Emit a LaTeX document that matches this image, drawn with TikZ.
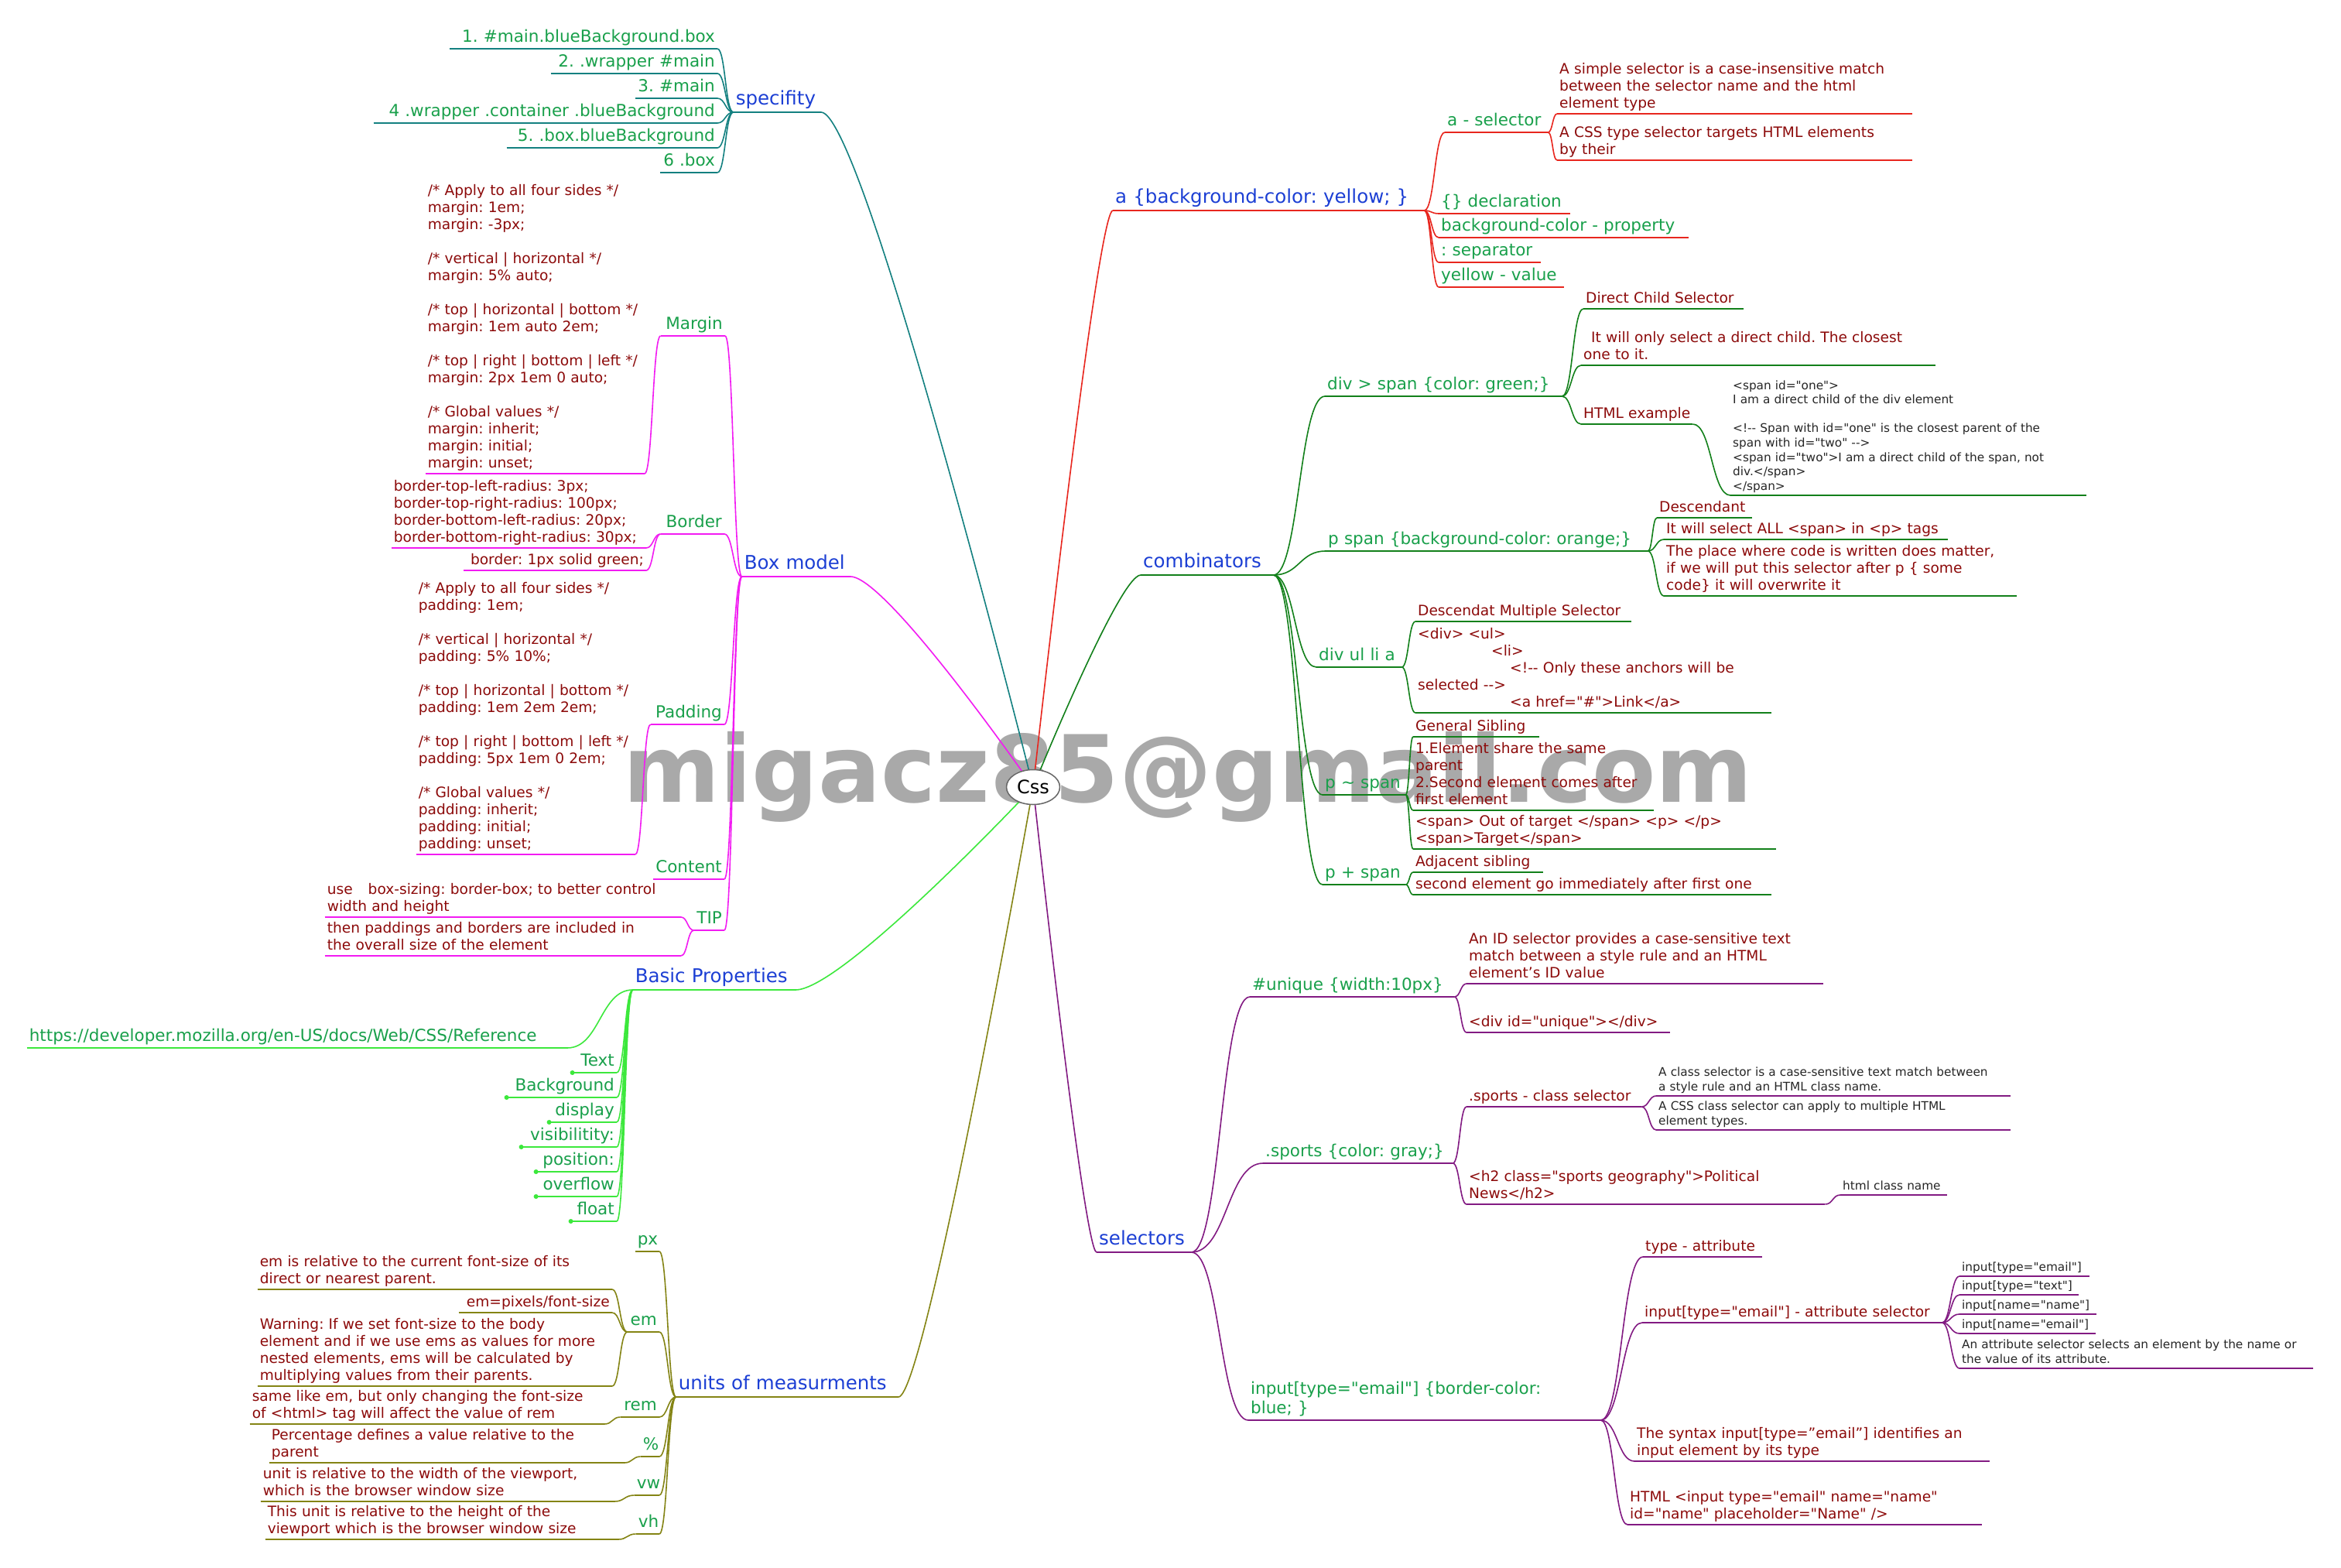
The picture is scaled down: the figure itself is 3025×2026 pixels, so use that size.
\documentclass[tikz,border=0pt]{standalone}
\usepackage{fontspec}
\newfontfamily\dv{DejaVu Sans}
\usetikzlibrary{calc,shapes.geometric}
\pgfdeclarelayer{wm}\pgfdeclarelayer{edges}
\pgfsetlayers{wm,edges,main}
\definecolor{cblue}{HTML}{1C3FD4}
\definecolor{cgreen}{HTML}{19A04B}
\definecolor{cdred}{HTML}{8C0A0A}
\definecolor{csmall}{HTML}{262626}
\definecolor{lteal}{HTML}{138080}
\definecolor{lred}{HTML}{E8261E}
\definecolor{ldgreen}{HTML}{12801A}
\definecolor{lmag}{HTML}{F21BF2}
\definecolor{lbgreen}{HTML}{3CE83C}
\definecolor{lolive}{HTML}{848414}
\definecolor{lpurple}{HTML}{821A82}
\definecolor{wmgray}{HTML}{A9A9A9}
\newcommand\fB{\dv\fontsize{24.5}{28.5}\selectfont}
\newcommand\fG{\dv\fontsize{21.5}{25}\selectfont}
\newcommand\fR{\dv\fontsize{18.6}{22}\selectfont}
\newcommand\fS{\dv\fontsize{15.3}{18.6}\selectfont}
\tikzset{
  nd/.style={inner xsep=3pt, inner ysep=1pt, align=left},
  ra/.style={align=right},
  tB/.style={font=\fB, text=cblue},
  tG/.style={font=\fG, text=cgreen},
  tR/.style={font=\fR, text=cdred},
  tS/.style={font=\fS, text=csmall},
  ul/.style={line width=2pt, draw=#1},
  cnl/.style={line width=1.6pt, draw=#1},
}
% right-side node: name, style, line colour, x left, x right, y underline, text
\newcommand\NR[7]{\pgfmathsetmacro\tw{#5-#4-6}%
  \node[nd,#2,text width=\tw pt,anchor=south west] (#1) at (#4,#6) {\begin{tabular}[b]{@{}l@{}}#7\end{tabular}};%
  \draw[ul=#3] (#1.south west) -- (#1.south east);}
% left-side node, text left-aligned
\newcommand\NL[7]{\pgfmathsetmacro\tw{#5-#4-6}%
  \node[nd,#2,text width=\tw pt,anchor=south east] (#1) at (#5,#6) {\begin{tabular}[b]{@{}l@{}}#7\end{tabular}};%
  \draw[ul=#3] (#1.south west) -- (#1.south east);}
% left-side node, text right-aligned
\newcommand\NLr[7]{\pgfmathsetmacro\tw{#5-#4-6}%
  \node[nd,#2,ra,text width=\tw pt,anchor=south east] (#1) at (#5,#6) {\begin{tabular}[b]{@{}r@{}}#7\end{tabular}};%
  \draw[ul=#3] (#1.south west) -- (#1.south east);}
% connector between two anchors
\newcommand\cn[3]{\begin{pgfonlayer}{edges}\draw[cnl=#3] let \p1=(#1), \p2=(#2) in
  (\p1) .. controls ({(\x1+\x2)/2},\y1) and ({(\x1+\x2)/2},\y2) .. (\p2);\end{pgfonlayer}}
% connector from root
\newcommand\cnr[2]{\begin{pgfonlayer}{edges}\draw[cnl=#2] let \p1=(root.center), \p2=(#1) in
  (\p1) .. controls (\p1) and ({\x2+0.2*(\x1-\x2)},\y2) .. (\p2);\end{pgfonlayer}}
\begin{document}
\frenchspacing
\begin{tikzpicture}[x=1pt,y=-1pt]
\begin{pgfonlayer}{wm}
\fill[white] (0,0) rectangle (3025,2026);
\node[font=\dv\bfseries\fontsize{120}{140}\selectfont, text=wmgray, anchor=base west, inner sep=0] (wm) at (805,1036) {migacz85@gmail.com};
\end{pgfonlayer}
\useasboundingbox (0,0) rectangle (3025,2026);

\node[ellipse, draw=gray!80!black, line width=1.5pt, fill=white, minimum width=69pt, minimum height=45pt, inner sep=0, font=\dv\fontsize{24}{28}\selectfont] (root) at (1335,1017) {Css};

% ---------- a {background-color: yellow; }
\NR{aB}{tB}{lred}{1438}{1840}{272}{a \{background-color: yellow; \}}
\NR{aSel}{tG}{lred}{1867}{2000}{171}{a - selector}
\NR{aSel1}{tR}{lred}{2012}{2471}{147}{A simple selector is a case-insensitive match\\between the selector name and the html\\element type}
\NR{aSel2}{tR}{lred}{2012}{2471}{207}{A CSS type selector targets HTML elements\\by their}
\NR{aDecl}{tG}{lred}{1859}{2029}{276}{\{\} declaration}
\NR{aProp}{tG}{lred}{1859}{2182}{307}{background-color - property}
\NR{aSep}{tG}{lred}{1859}{1991}{339}{: separator}
\NR{aVal}{tG}{lred}{1859}{2021}{371}{yellow - value}
\cnr{aB.south west}{lred}
\cn{aB.south east}{aSel.south west}{lred}
\cn{aSel.south east}{aSel1.south west}{lred}
\cn{aSel.south east}{aSel2.south west}{lred}
\cn{aB.south east}{aDecl.south west}{lred}
\cn{aB.south east}{aProp.south west}{lred}
\cn{aB.south east}{aSep.south west}{lred}
\cn{aB.south east}{aVal.south west}{lred}

% ---------- combinators
\NR{comb}{tB}{ldgreen}{1474}{1645}{743}{combinators}
\NR{dspan}{tG}{ldgreen}{1712}{2018}{512}{div > span \{color: green;\}}
\NR{dcs}{tR}{ldgreen}{2046}{2253}{399}{Direct Child Selector}
\NR{dwill}{tR}{ldgreen}{2043}{2501}{472}{\hspace*{10pt}It will only select a direct child. The closest\\one to it.}
\NR{dhtml}{tR}{ldgreen}{2043}{2187}{548}{HTML example}
\NR{dhtmlc}{tS}{ldgreen}{2236}{2696}{640}{<span id="one">\\I am a direct child of the div element\\ \\<!-{}- Span with id="one" is the closest parent of the\\span with id="two" -{}->\\<span id="two">I am a direct child of the span, not\\div.</span>\\</span>}
\NR{pspan}{tG}{ldgreen}{1713}{2129}{712}{p span \{background-color: orange;\}}
\NR{pdesc}{tR}{ldgreen}{2141}{2264}{669}{Descendant}
\NR{pall}{tR}{ldgreen}{2150}{2517}{697}{It will select ALL <span> in <p> tags}
\NR{pplace}{tR}{ldgreen}{2150}{2606}{770}{The place where code is written does matter,\\if we will put this selector after p \{ some\\code\} it will overwrite it}
\NR{dul}{tG}{ldgreen}{1701}{1811}{862}{div ul li a}
\NR{dms}{tR}{ldgreen}{1829}{2108}{803}{Descendat Multiple Selector}
\NR{dcode}{tR}{ldgreen}{1829}{2289}{921}{<div> <ul>\\\hspace*{95pt}<li>\\\hspace*{119pt}<!-{}- Only these anchors will be\\selected -{}->\\\hspace*{119pt}<a href="\#">Link</a>}
\NR{ptil}{tG}{ldgreen}{1709}{1816}{1027}{p \textasciitilde{} span}
\NR{gsib}{tR}{ldgreen}{1826}{1989}{952}{General Sibling}
\NR{gsib2}{tR}{ldgreen}{1826}{2137}{1047}{1.Element share the same\\parent\\2.Second element comes after\\first element}
\NR{gsib3}{tR}{ldgreen}{1826}{2295}{1097}{<span> Out of target </span> <p> </p>\\<span>Target</span>}
\NR{pplus}{tG}{ldgreen}{1709}{1816}{1143}{p + span}
\NR{adj}{tR}{ldgreen}{1826}{1994}{1127}{Adjacent sibling}
\NR{adj2}{tR}{ldgreen}{1826}{2289}{1156}{second element go immediately after first one}
\cnr{comb.south west}{ldgreen}
\cn{comb.south east}{dspan.south west}{ldgreen}
\cn{dspan.south east}{dcs.south west}{ldgreen}
\cn{dspan.south east}{dwill.south west}{ldgreen}
\cn{dspan.south east}{dhtml.south west}{ldgreen}
\cn{dhtml.south east}{dhtmlc.south west}{ldgreen}
\cn{comb.south east}{pspan.south west}{ldgreen}
\cn{pspan.south east}{pdesc.south west}{ldgreen}
\cn{pspan.south east}{pall.south west}{ldgreen}
\cn{pspan.south east}{pplace.south west}{ldgreen}
\cn{comb.south east}{dul.south west}{ldgreen}
\cn{dul.south east}{dms.south west}{ldgreen}
\cn{dul.south east}{dcode.south west}{ldgreen}
\cn{comb.south east}{ptil.south west}{ldgreen}
\cn{ptil.south east}{gsib.south west}{ldgreen}
\cn{ptil.south east}{gsib2.south west}{ldgreen}
\cn{ptil.south east}{gsib3.south west}{ldgreen}
\cn{comb.south east}{pplus.south west}{ldgreen}
\cn{pplus.south east}{adj.south west}{ldgreen}
\cn{pplus.south east}{adj2.south west}{ldgreen}

% ---------- selectors
\NR{sel}{tB}{lpurple}{1417}{1539}{1618}{selectors}
\NR{uniq}{tG}{lpurple}{1615}{1879}{1288}{\#unique \{width:10px\}}
\NR{uid}{tR}{lpurple}{1895}{2356}{1271}{An ID selector provides a case-sensitive text\\match between a style rule and an HTML\\element’s ID value}
\NR{udiv}{tR}{lpurple}{1895}{2158}{1334}{<div id="unique"></div>}
\NR{sports}{tG}{lpurple}{1632}{1877}{1503}{.sports \{color: gray;\}}
\NR{scs}{tR}{lpurple}{1895}{2121}{1430}{.sports - class selector}
\NR{scs1}{tS}{lpurple}{2140}{2598}{1416}{A class selector is a case-sensitive text match between\\a style rule and an HTML class name.}
\NR{scs2}{tS}{lpurple}{2140}{2598}{1460}{A CSS class selector can apply to multiple HTML\\element types.}
\NR{sh2}{tR}{lpurple}{1895}{2358}{1556}{<h2 class="sports geography">Political\\News</h2>}
\NR{shtml}{tS}{lpurple}{2378}{2516}{1544}{html class name}
\NR{inp}{tG}{lpurple}{1613}{2068}{1835}{input[type="email"] \{border-color:\\blue; \}}
\NR{tattr}{tR}{lpurple}{2123}{2277}{1624}{type - attribute}
\NR{iattr}{tR}{lpurple}{2122}{2509}{1709}{input[type="email"] - attribute selector}
\NR{ia}{tS}{lpurple}{2532}{2700}{1649}{input[type="email"]}
\NR{ib}{tS}{lpurple}{2532}{2686}{1673}{input[type="text"]}
\NR{ic}{tS}{lpurple}{2532}{2709}{1698}{input[name="name"]}
\NR{id}{tS}{lpurple}{2532}{2708}{1723}{input[name="email"]}
\NR{ie}{tS}{lpurple}{2532}{2989}{1768}{An attribute selector selects an element by the name or\\the value of its attribute.}
\NR{isyn}{tR}{lpurple}{2112}{2571}{1888}{The syntax input[type=”email”] identifies an\\input element by its type}
\NR{ihtml}{tR}{lpurple}{2103}{2561}{1970}{HTML <input type="email" name="name"\\id="name" placeholder="Name" />}
\cnr{sel.south west}{lpurple}
\cn{sel.south east}{uniq.south west}{lpurple}
\cn{uniq.south east}{uid.south west}{lpurple}
\cn{uniq.south east}{udiv.south west}{lpurple}
\cn{sel.south east}{sports.south west}{lpurple}
\cn{sports.south east}{scs.south west}{lpurple}
\cn{scs.south east}{scs1.south west}{lpurple}
\cn{scs.south east}{scs2.south west}{lpurple}
\cn{sports.south east}{sh2.south west}{lpurple}
\cn{sh2.south east}{shtml.south west}{lpurple}
\cn{sel.south east}{inp.south west}{lpurple}
\cn{inp.south east}{tattr.south west}{lpurple}
\cn{inp.south east}{iattr.south west}{lpurple}
\cn{iattr.south east}{ia.south west}{lpurple}
\cn{iattr.south east}{ib.south west}{lpurple}
\cn{iattr.south east}{ic.south west}{lpurple}
\cn{iattr.south east}{id.south west}{lpurple}
\cn{iattr.south east}{ie.south west}{lpurple}
\cn{inp.south east}{isyn.south west}{lpurple}
\cn{inp.south east}{ihtml.south west}{lpurple}

% ---------- specifity
\NL{spec}{tB}{lteal}{948}{1061}{145}{specifity}
\NLr{s1}{tG}{lteal}{581}{927}{63}{1. \#main.blueBackground.box}
\NLr{s2}{tG}{lteal}{712}{927}{95}{2. .wrapper \#main}
\NLr{s3}{tG}{lteal}{821}{927}{127}{3. \#main}
\NLr{s4}{tG}{lteal}{483}{927}{159}{4 .wrapper .container .blueBackground}
\NLr{s5}{tG}{lteal}{655}{927}{191}{5. .box.blueBackground}
\NLr{s6}{tG}{lteal}{853}{927}{223}{6 .box}
\cnr{spec.south east}{lteal}
\foreach \k in {s1,s2,s3,s4,s5,s6}{\cn{spec.south west}{\k.south east}{lteal}}

% ---------- Box model
\NL{box}{tB}{lmag}{959}{1099}{745}{Box model}
\NLr{marg}{tG}{lmag}{854}{937}{434}{Margin}
\NL{margc}{tR}{lmag}{550}{833}{612}{/* Apply to all four sides */\\margin: 1em;\\margin: -3px;\\ \\/* vertical | horizontal */\\margin: 5\% auto;\\ \\/* top | horizontal | bottom */\\margin: 1em auto 2em;\\ \\/* top | right | bottom | left */\\margin: 2px 1em 0 auto;\\ \\/* Global values */\\margin: inherit;\\margin: initial;\\margin: unset;}
\NLr{bord}{tG}{lmag}{854}{936}{690}{Border}
\NL{bord1}{tR}{lmag}{506}{835}{708}{border-top-left-radius: 3px;\\border-top-right-radius: 100px;\\border-bottom-left-radius: 20px;\\border-bottom-right-radius: 30px;}
\NLr{bord2}{tR}{lmag}{599}{835}{737}{border: 1px solid green;}
\NLr{padd}{tG}{lmag}{841}{936}{936}{Padding}
\NL{paddc}{tR}{lmag}{538}{821}{1104}{/* Apply to all four sides */\\padding: 1em;\\ \\/* vertical | horizontal */\\padding: 5\% 10\%;\\ \\/* top | horizontal | bottom */\\padding: 1em 2em 2em;\\ \\/* top | right | bottom | left */\\padding: 5px 1em 0 2em;\\ \\/* Global values */\\padding: inherit;\\padding: initial;\\padding: unset;}
\NLr{cont}{tG}{lmag}{844}{936}{1136}{Content}
\NLr{tip}{tG}{lmag}{897}{936}{1202}{TIP}
\NL{tip1}{tR}{lmag}{420}{880}{1185}{use\hspace{20pt}box-sizing: border-box; to better control\\width and height}
\NL{tip2}{tR}{lmag}{420}{880}{1235}{then paddings and borders are included in\\the overall size of the element}
\cnr{box.south east}{lmag}
\foreach \k in {marg,bord,padd,cont,tip}{\cn{box.south west}{\k.south east}{lmag}}
\cn{marg.south west}{margc.south east}{lmag}
\cn{bord.south west}{bord1.south east}{lmag}
\cn{bord.south west}{bord2.south east}{lmag}
\cn{padd.south west}{paddc.south east}{lmag}
\cn{tip.south west}{tip1.south east}{lmag}
\cn{tip.south west}{tip2.south east}{lmag}

% ---------- Basic Properties
\NL{basic}{tB}{lbgreen}{818}{1028}{1279}{Basic Properties}
\NL{url}{tG}{lbgreen}{35}{733}{1354}{https://developer.mozilla.org/en-US/docs/Web/CSS/Reference}
\NLr{bText}{tG}{lbgreen}{740}{797}{1386}{Text}
\NLr{bBack}{tG}{lbgreen}{655}{797}{1418}{Background}
\NLr{bDisp}{tG}{lbgreen}{710}{797}{1450}{display}
\NLr{bVis}{tG}{lbgreen}{674}{797}{1482}{visibilitity:}
\NLr{bPos}{tG}{lbgreen}{693}{797}{1514}{position:}
\NLr{bOver}{tG}{lbgreen}{693}{797}{1546}{overflow}
\NLr{bFloat}{tG}{lbgreen}{738}{797}{1578}{float}
\cnr{basic.south east}{lbgreen}
\foreach \k in {url,bText,bBack,bDisp,bVis,bPos,bOver,bFloat}{\cn{basic.south west}{\k.south east}{lbgreen}}
\foreach \k in {bText,bBack,bDisp,bVis,bPos,bOver,bFloat}{\fill[lbgreen] (\k.south west) circle (3);}

% ---------- units of measurments
\NL{units}{tB}{lolive}{874}{1161}{1805}{units of measurments}
\NLr{px}{tG}{lolive}{821}{852}{1617}{px}
\NLr{em}{tG}{lolive}{811}{852}{1721}{em}
\NL{em1}{tR}{lolive}{333}{791}{1666}{em is relative to the current font-size of its\\direct or nearest parent.}
\NLr{em2}{tR}{lolive}{593}{791}{1696}{em=pixels/font-size}
\NL{em3}{tR}{lolive}{333}{791}{1791}{Warning: If we set font-size to the body\\element and if we use ems as values for more\\nested elements, ems will be calculated by\\multiplying values from their parents.}
\NLr{rem}{tG}{lolive}{802}{852}{1831}{rem}
\NL{rem1}{tR}{lolive}{323}{781}{1840}{same like em, but only changing the font-size\\of <html> tag will affect the value of rem}
\NLr{pct}{tG}{lolive}{828}{852}{1882}{\%}
\NL{pct1}{tR}{lolive}{348}{807}{1890}{Percentage defines a value relative to the\\parent}
\NLr{vw}{tG}{lolive}{820}{852}{1932}{vw}
\NL{vw1}{tR}{lolive}{337}{794}{1940}{unit is relative to the width of the viewport,\\which is the browser window size}
\NLr{vh}{tG}{lolive}{822}{852}{1982}{vh}
\NL{vh1}{tR}{lolive}{343}{799}{1989}{This unit is relative to the height of the\\viewport which is the browser window size}
\cnr{units.south east}{lolive}
\foreach \k in {px,em,rem,pct,vw,vh}{\cn{units.south west}{\k.south east}{lolive}}
\cn{em.south west}{em1.south east}{lolive}
\cn{em.south west}{em2.south east}{lolive}
\cn{em.south west}{em3.south east}{lolive}
\cn{rem.south west}{rem1.south east}{lolive}
\cn{pct.south west}{pct1.south east}{lolive}
\cn{vw.south west}{vw1.south east}{lolive}
\cn{vh.south west}{vh1.south east}{lolive}
\end{tikzpicture}
\end{document}
